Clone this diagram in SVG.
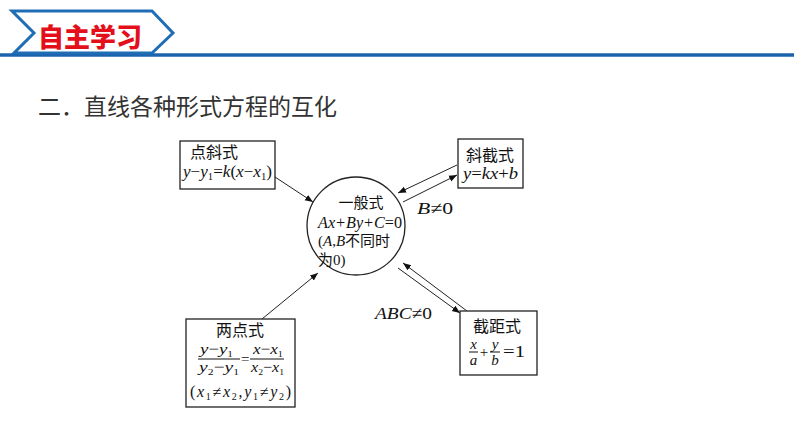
<svg xmlns="http://www.w3.org/2000/svg" width="794" height="447" viewBox="0 0 794 447">
<style>
.cjk{font-family:"Noto Sans CJK SC","Noto Sans",sans-serif;fill:#111}
.m{font-family:"Liberation Serif","DejaVu Serif",serif;fill:#111}
.i{font-style:italic}
.n{font-style:normal}
.box{fill:#fff;stroke:#222;stroke-width:1.3}
.ln{stroke:#222;stroke-width:1;fill:none}
.bar{stroke:#111;stroke-width:1}
</style>
<defs>
<marker id="ah" viewBox="0 0 10 10" refX="10" refY="5" markerWidth="8" markerHeight="8" markerUnits="userSpaceOnUse" orient="auto">
<path d="M0,1 L10,5 L0,9 Z" fill="#111"/>
</marker>
</defs>
<rect width="794" height="447" fill="#fff"/>
<g id="header">
<line x1="0" y1="55" x2="794" y2="55" stroke="#1b63ad" stroke-width="3.5"/>
<polygon points="12,11 152,11 173,33 152,53 14,53 34,33" fill="#fff" stroke="#1f6db5" stroke-width="3"/>
<text x="38" y="47" font-family="Noto Sans CJK SC,sans-serif" font-weight="900" font-size="26" fill="#e3101b">自主学习</text>
</g>
<text id="subtitle" x="38" y="115" font-family="Noto Sans CJK SC,sans-serif" font-size="23" fill="#333">二．直线各种形式方程的互化</text>
<g id="connectors">
<line class="ln" x1="275" y1="177" x2="313" y2="202" marker-end="url(#ah)"/>
<line class="ln" x1="457" y1="165" x2="398" y2="193" marker-end="url(#ah)"/>
<line class="ln" x1="403" y1="202" x2="457" y2="175" marker-end="url(#ah)"/>
<line class="ln" x1="262" y1="319" x2="318" y2="273" marker-end="url(#ah)"/>
<line class="ln" x1="467" y1="311" x2="403" y2="263" marker-end="url(#ah)"/>
<line class="ln" x1="398" y1="268" x2="460" y2="313" marker-end="url(#ah)"/>
<text class="m" x="417" y="214" font-size="17" textLength="36" lengthAdjust="spacingAndGlyphs"><tspan class="i">B</tspan>≠0</text>
<text class="m" x="375" y="319" font-size="17" textLength="57" lengthAdjust="spacingAndGlyphs"><tspan class="i">ABC</tspan>≠0</text>
</g>
<g id="general">
<circle cx="356" cy="226" r="49" fill="#fff" stroke="#222" stroke-width="1.3"/>
<text class="cjk" x="361" y="208" font-size="15" text-anchor="middle">一般式</text>
<text class="m i" x="318" y="228" font-size="16" textLength="84" lengthAdjust="spacingAndGlyphs">Ax+By+C<tspan class="n">=0</tspan></text>
<text x="318" y="246" font-size="15"><tspan class="m">(</tspan><tspan class="m i">A</tspan><tspan class="m">,</tspan><tspan class="m i">B</tspan><tspan class="cjk">不同时</tspan></text>
<text x="318" y="265" font-size="15"><tspan class="cjk">为</tspan><tspan class="m">0)</tspan></text>
</g>
<g id="point-slope">
<rect class="box" x="180" y="141" width="95" height="48"/>
<text class="cjk" x="190" y="158" font-size="16">点斜式</text>
<text class="m i" x="183" y="177" font-size="16" textLength="89" lengthAdjust="spacingAndGlyphs">y<tspan class="n">−</tspan>y<tspan class="n" font-size="10" dy="3">1</tspan><tspan class="n" dy="-3">=</tspan>k<tspan class="n">(</tspan>x<tspan class="n">−</tspan>x<tspan class="n" font-size="10" dy="3">1</tspan><tspan class="n" dy="-3">)</tspan></text>
</g>
<g id="slope-intercept">
<rect class="box" x="458" y="139" width="65" height="49"/>
<text class="cjk" x="490" y="161" font-size="16" text-anchor="middle">斜截式</text>
<text class="m i" x="463" y="179" font-size="16" textLength="55" lengthAdjust="spacingAndGlyphs">y<tspan class="n">=</tspan>kx<tspan class="n">+</tspan>b</text>
</g>
<g id="two-point">
<rect class="box" x="186" y="319" width="109" height="88"/>
<text class="cjk" x="240" y="336" font-size="16" text-anchor="middle">两点式</text>
<text class="m i" x="200" y="354" font-size="15" textLength="33" lengthAdjust="spacingAndGlyphs">y<tspan class="n">−</tspan>y<tspan class="n" font-size="9" dy="3">1</tspan></text>
<line class="bar" x1="198" y1="359" x2="240" y2="359"/>
<text class="m i" x="199" y="372" font-size="15" textLength="40" lengthAdjust="spacingAndGlyphs">y<tspan class="n" font-size="9" dy="3">2</tspan><tspan class="n" dy="-3">−</tspan>y<tspan class="n" font-size="9" dy="3">1</tspan></text>
<text class="m" x="241" y="364" font-size="15">=</text>
<text class="m i" x="253" y="354" font-size="15" textLength="30" lengthAdjust="spacingAndGlyphs">x<tspan class="n">−</tspan>x<tspan class="n" font-size="9" dy="3">1</tspan></text>
<line class="bar" x1="250" y1="359" x2="284" y2="359"/>
<text class="m i" x="251" y="372" font-size="15" textLength="33" lengthAdjust="spacingAndGlyphs">x<tspan class="n" font-size="9" dy="3">2</tspan><tspan class="n" dy="-3">−</tspan>x<tspan class="n" font-size="9" dy="3">1</tspan></text>
<text class="m" x="190" y="397" font-size="16" textLength="101" lengthAdjust="spacing">(<tspan class="i">x</tspan><tspan font-size="10" dy="3">1</tspan><tspan dy="-3">≠</tspan><tspan class="i">x</tspan><tspan font-size="10" dy="3">2</tspan><tspan dy="-3">,</tspan><tspan class="i">y</tspan><tspan font-size="10" dy="3">1</tspan><tspan dy="-3">≠</tspan><tspan class="i">y</tspan><tspan font-size="10" dy="3">2</tspan><tspan dy="-3">)</tspan></text>
</g>
<g id="intercept">
<rect class="box" x="460" y="311" width="77" height="64"/>
<text class="cjk" x="497" y="332" font-size="16" text-anchor="middle">截距式</text>
<text class="m i" x="473.5" y="349" font-size="15" text-anchor="middle">x</text>
<line class="bar" x1="469" y1="352" x2="478" y2="352"/>
<text class="m i" x="473.5" y="365" font-size="15" text-anchor="middle">a</text>
<text class="m" x="484" y="357" font-size="15" text-anchor="middle">+</text>
<text class="m i" x="495" y="349" font-size="15" text-anchor="middle">y</text>
<line class="bar" x1="490" y1="352" x2="500" y2="352"/>
<text class="m i" x="495" y="365" font-size="15" text-anchor="middle">b</text>
<text class="m" x="503" y="357" font-size="16" textLength="22" lengthAdjust="spacingAndGlyphs">=1</text>
</g>
</svg>
